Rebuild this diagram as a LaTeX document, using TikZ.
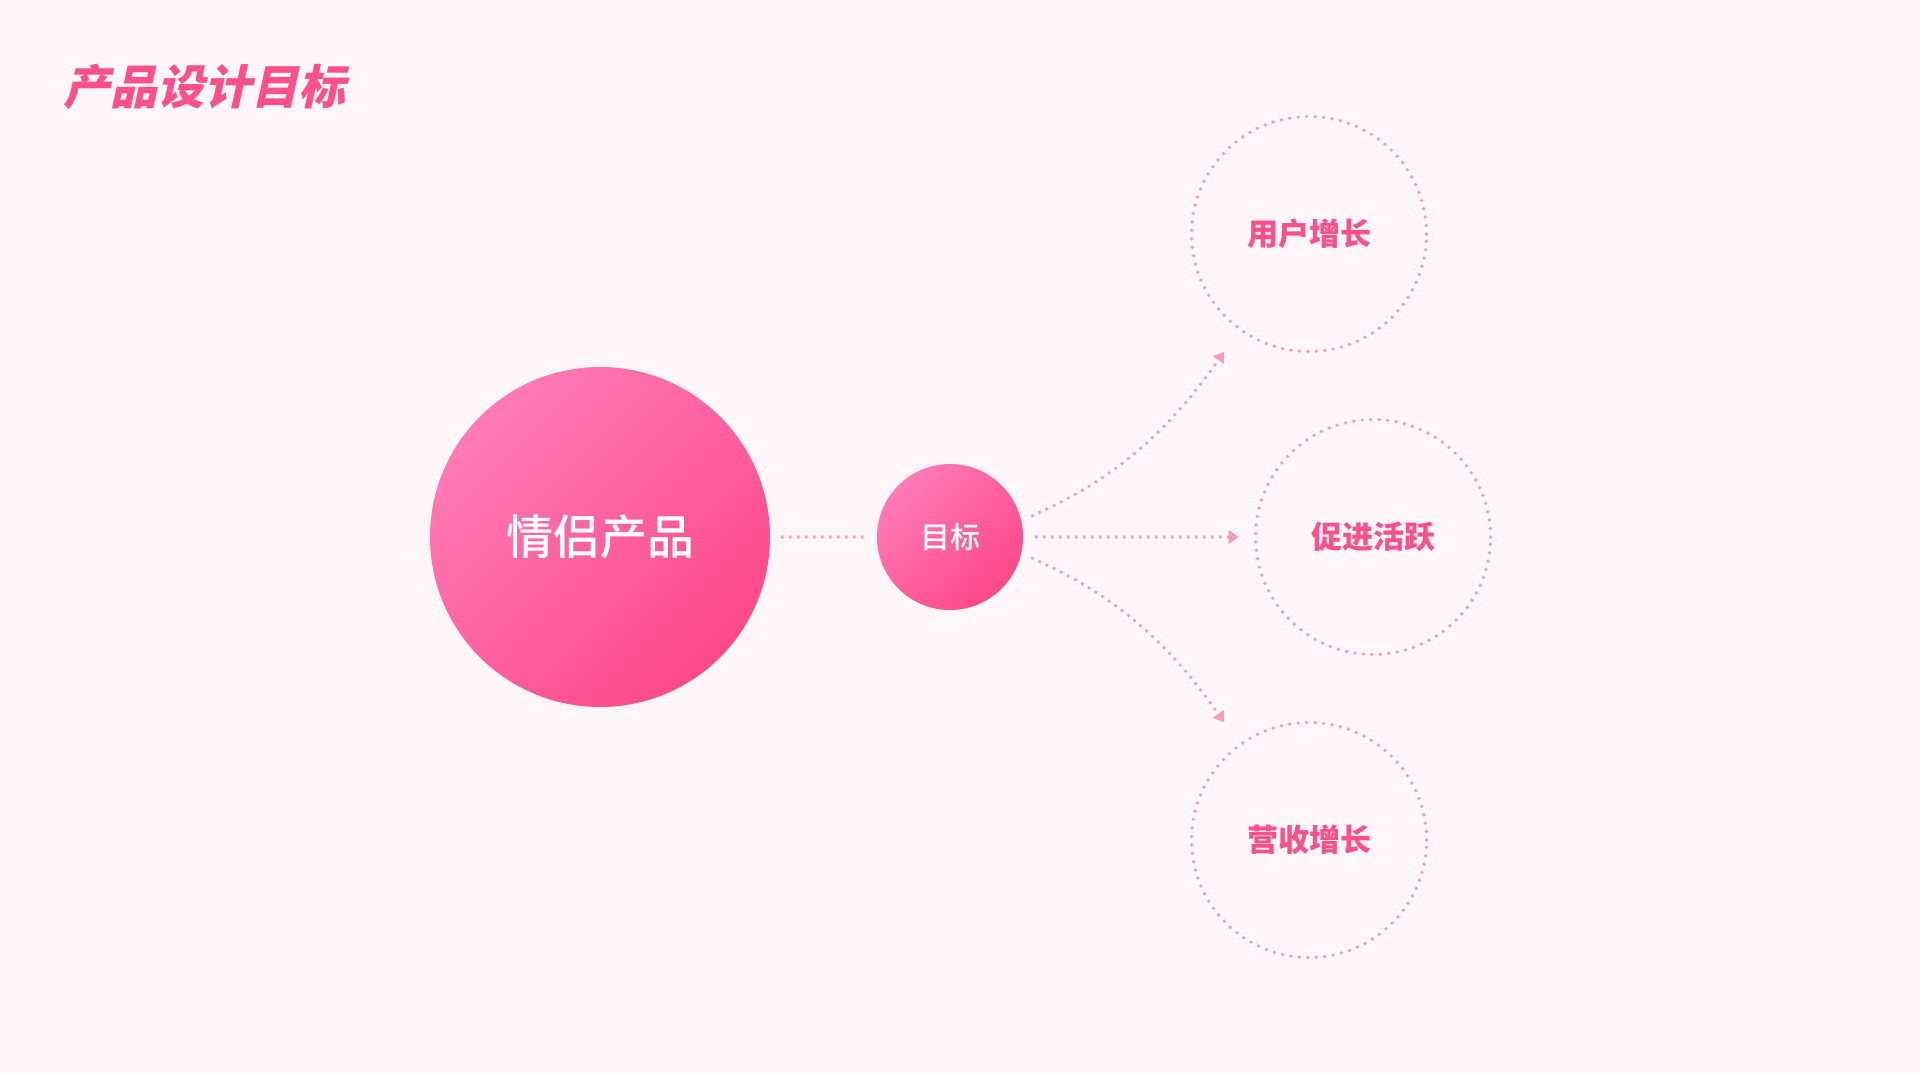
\documentclass[tikz,border=0pt]{standalone}
\usepackage{fontspec}
\newfontfamily\cjk{Noto Sans CJK SC}
\newfontfamily\cjkmed{Noto Sans CJK SC Medium}
\newfontfamily\cjktitle{Noto Sans CJK SC}[UprightFeatures={FakeSlant=0.22},BoldFeatures={FakeSlant=0.22}]
\usetikzlibrary{arrows.meta,calc,positioning}
\definecolor{bgpink}{HTML}{FEF6F9}
\definecolor{titlepink}{HTML}{FF4F8B}
\definecolor{dotpink}{HTML}{FF98C0}
\definecolor{balllight}{HTML}{FF7AB7}
\definecolor{balldark}{HTML}{FF4888}

\begin{document}
\begin{tikzpicture}[x=1pt,y=-1pt,
	ball/.style={circle,inner sep=0pt,top color=balllight,bottom color=balldark,shading angle=45,text=white},
	ring/.style={circle,inner sep=0pt,minimum size=235pt,draw=dotpink,line width=3.7pt,dash pattern=on 0pt off 8.5pt,line cap=round,text=titlepink,font=\cjk\bfseries\fontsize{31}{31}\selectfont},
	link/.style={draw=dotpink,line width=3.7pt,dash pattern=on 0pt off 8pt,line cap=round},
	tip/.style={-{Triangle[length=10pt,width=13pt]}}]
		\fill[bgpink] (0,0) rectangle (1920,1073);
		\node[anchor=west,text=titlepink,font=\cjktitle\bfseries\fontsize{47}{47}\selectfont] (title) at (60,87) {产品设计目标};
		
		\node[ball,minimum size=340pt,font=\cjkmed\fontsize{47}{47}\selectfont] (prod) at (600,537) {情侣产品};
		\node[ball,minimum size=146pt,font=\cjkmed\fontsize{30}{30}\selectfont] (goal) at (950,537) {目标};
		
		\node[ring] (user) at (1309,234) {用户增长};
		\node[ring] (active) at (1373,537) {促进活跃};
		\node[ring] (revenue) at (1309,840) {营收增长};
		
		\draw[link,shorten <=12pt,shorten >=11pt] (prod) -- (goal);
		\draw[link,tip,shorten <=13pt,shorten >=15pt] (goal) -- (active);
		\draw[link,tip,shorten <=12pt,shorten >=26pt] (goal.13) .. controls +(95,-42) and +(-70,100) .. (user.234);
		\draw[link,tip,shorten <=12pt,shorten >=26pt] (goal.-13) .. controls +(95,42) and +(-70,-100) .. (revenue.126);
		
	\end{tikzpicture}
\end{document}
